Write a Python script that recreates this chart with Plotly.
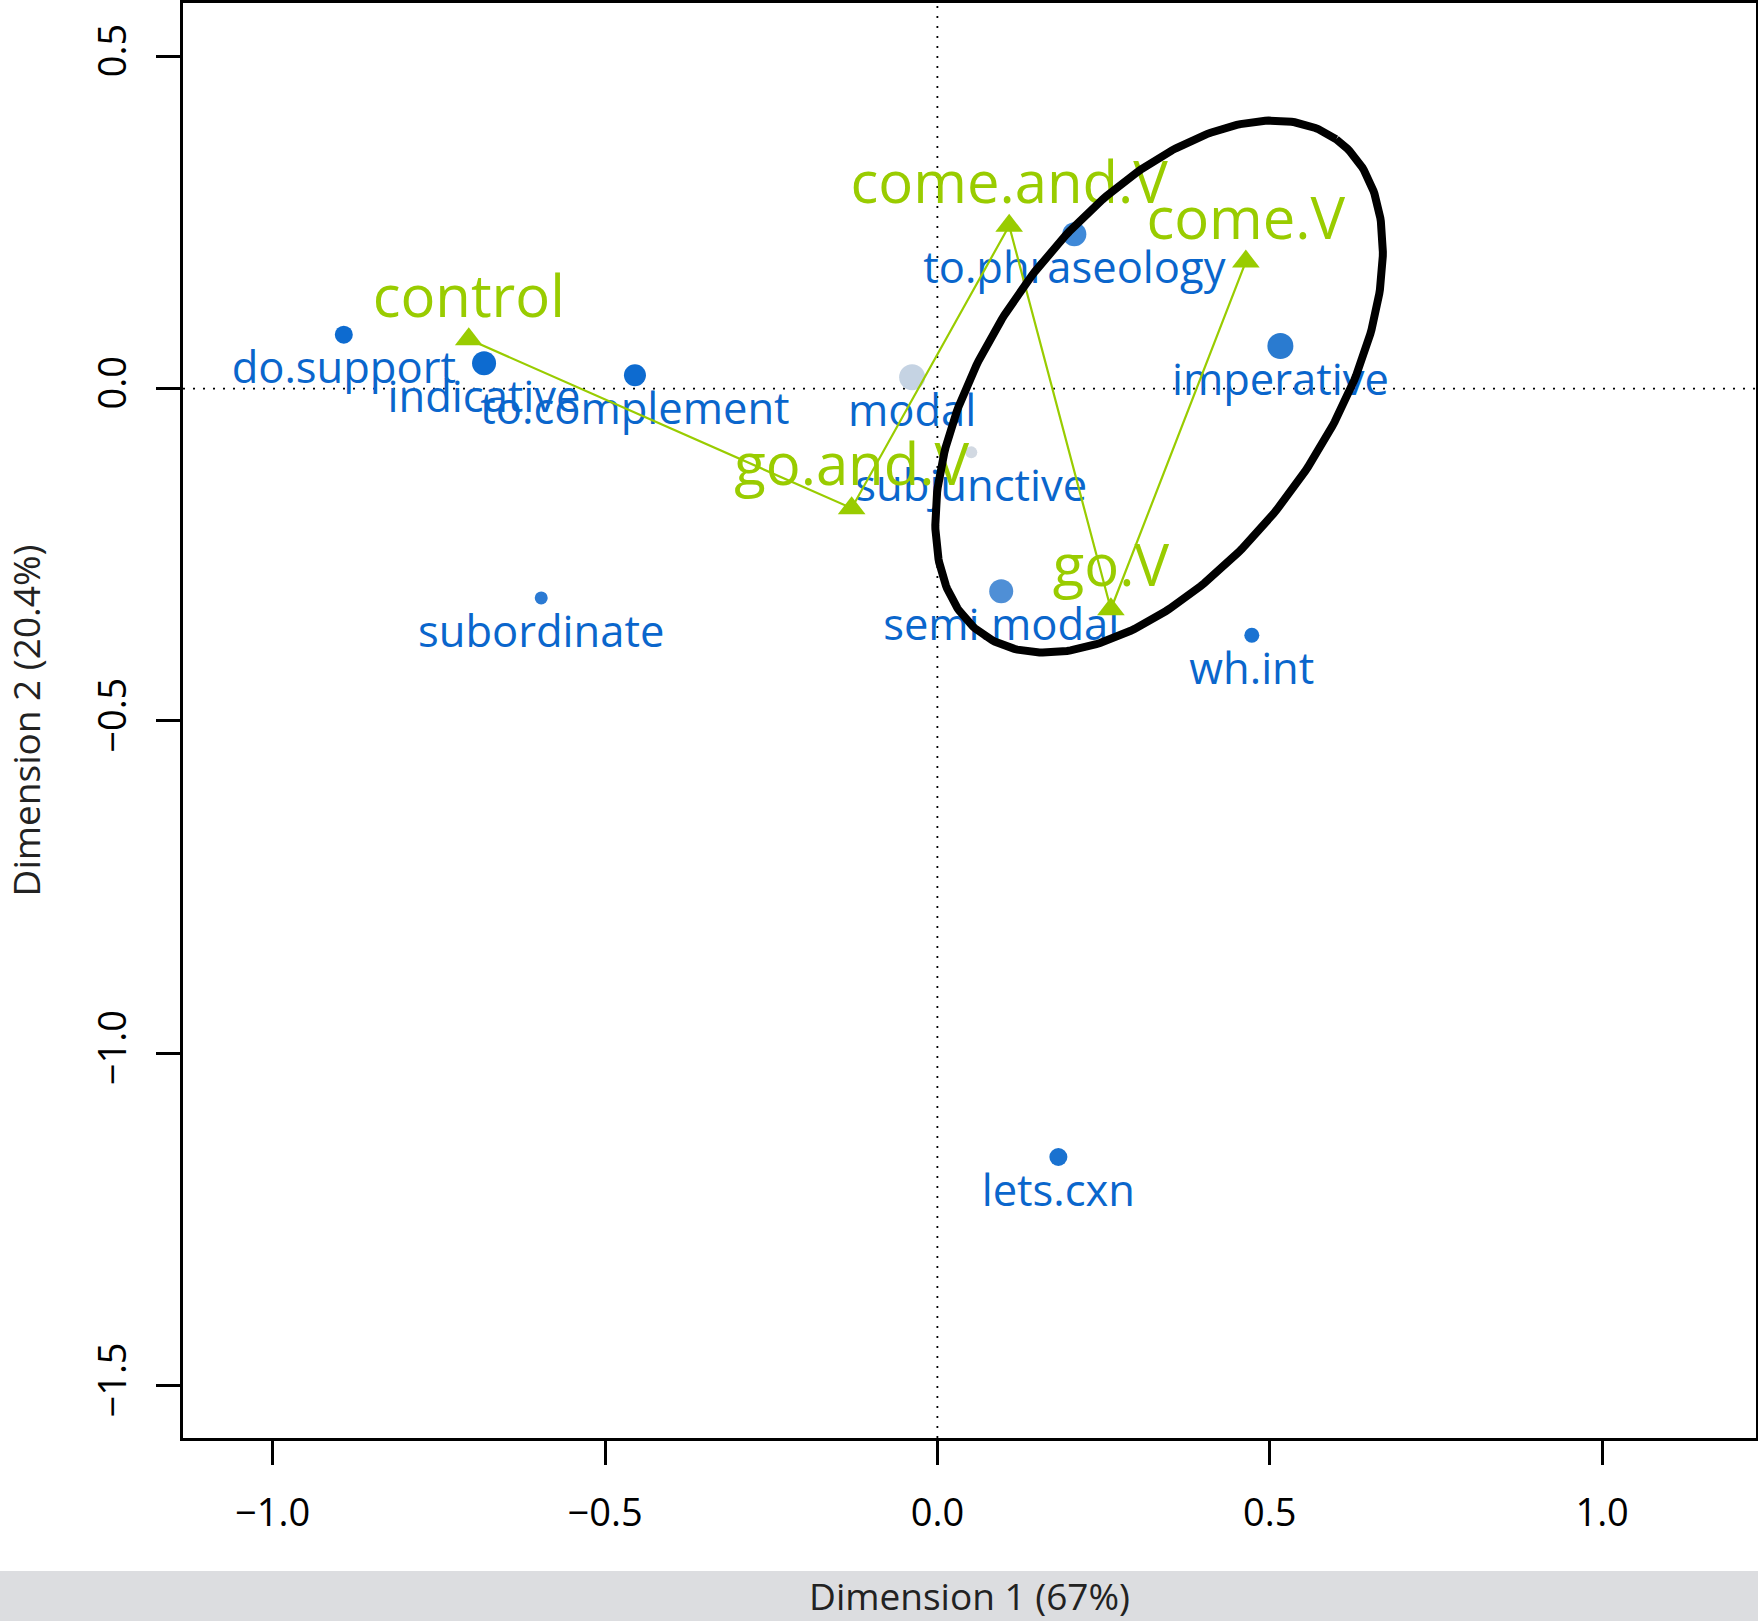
import numpy as np
import plotly.graph_objects as go

# ---- data ----
row_labels = ["do.support", "indicative", "to.complement", "modal", "subjunctive",
              "to.phraseology", "imperative", "semi.modal", "wh.int", "subordinate", "lets.cxn"]
row_dim1 = [-0.893, -0.682, -0.455, -0.038, 0.051, 0.206, 0.516, 0.096, 0.473, -0.596, 0.182]
row_dim2 = [0.081, 0.038, 0.020, 0.017, -0.096, 0.232, 0.064, -0.305, -0.371, -0.315, -1.156]

col_labels = ["control", "go.and.V", "come.and.V", "go.V", "come.V"]
col_dim1 = [-0.705, -0.129, 0.108, 0.261, 0.464]
col_dim2 = [0.074, -0.180, 0.245, -0.332, 0.191]

x_ticks = [-1.0, -0.5, 0.0, 0.5, 1.0]
x_tick_text = ["\u22121.0", "\u22120.5", "0.0", "0.5", "1.0"]
y_ticks = [-1.5, -1.0, -0.5, 0.0, 0.5]
y_tick_text = ["\u22121.5", "\u22121.0", "\u22120.5", "0.0", "0.5"]

x_title = "Dimension 1 (67%)"
y_title = "Dimension 2 (20.4%)"

# ellipse outline (center, semi-axes, rotation in degrees)
ell_center = (0.3335, 0.003)
ell_axes = (0.4576, 0.2532)
ell_angle = 54.4

# ---- styles ----
row_sizes = [18, 24, 22, 26, 12, 24, 26, 24, 15, 13, 18]
row_colors = ["#0d6bd0", "#0d6bd0", "#0d6bd0", "#c5d3e3", "#d2d9e2",
              "#3f89d8", "#2a7bd0", "#4f8fd6", "#1a73d2", "#2b7ad3", "#1a72d0"]
BLUE_TXT = "#0a66cc"
GREEN = "#99cc00"
FONT = "Open Sans"

W, H = 1758, 1621
ML, MR, MT, MB = 183, 2, 3, 183
x_range = [-1.1349, 1.2315]
y_range = [-1.5787, 0.580]
px_per_unit = (H - MT - MB) / (y_range[1] - y_range[0])

blue_fs = 43.5
green_fs = 58
blue_off = (53 - 0.35 * blue_fs) / px_per_unit
green_off = (17 + 0.35 * green_fs) / px_per_unit

fig = go.Figure()

# row points
fig.add_trace(go.Scatter(
    x=row_dim1, y=row_dim2, mode="markers",
    marker=dict(size=row_sizes, color=row_colors, opacity=1, line=dict(width=0)),
    hoverinfo="skip", showlegend=False))
fig.add_trace(go.Scatter(
    x=row_dim1, y=[v - blue_off for v in row_dim2], mode="text",
    text=row_labels, textposition="middle center",
    textfont=dict(family=FONT, size=blue_fs, color=BLUE_TXT),
    hoverinfo="skip", showlegend=False))

# column points with connecting path
fig.add_trace(go.Scatter(
    x=col_dim1, y=col_dim2, mode="lines+markers",
    line=dict(color=GREEN, width=2.2),
    marker=dict(symbol="triangle-up", size=24, color=GREEN, opacity=1, line=dict(width=0)),
    hoverinfo="skip", showlegend=False))
fig.add_trace(go.Scatter(
    x=col_dim1, y=[v + green_off for v in col_dim2], mode="text",
    text=col_labels, textposition="middle center",
    textfont=dict(family=FONT, size=green_fs, color=GREEN),
    hoverinfo="skip", showlegend=False))

# ellipse
t = np.linspace(0, 2 * np.pi, 361)
th = np.deg2rad(ell_angle)
ex = ell_center[0] + ell_axes[0] * np.cos(t) * np.cos(th) - ell_axes[1] * np.sin(t) * np.sin(th)
ey = ell_center[1] + ell_axes[0] * np.cos(t) * np.sin(th) + ell_axes[1] * np.sin(t) * np.cos(th)
fig.add_trace(go.Scatter(
    x=ex, y=ey, mode="lines", line=dict(color="black", width=8),
    hoverinfo="skip", showlegend=False))

# dotted reference lines through the origin
fig.add_shape(type="line", xref="x", yref="y domain", x0=0, x1=0, y0=0, y1=1,
              line=dict(color="black", width=1.8, dash="2px,8px"), layer="below")
fig.add_shape(type="line", xref="x domain", yref="y", x0=0, x1=1, y0=0, y1=0,
              line=dict(color="black", width=1.8, dash="2px,8px"), layer="below")

# grey band at the bottom of the figure
pw, ph = W - ML - MR, H - MT - MB
fig.add_shape(type="rect", xref="paper", yref="paper",
              x0=-ML / pw, x1=(W - ML) / pw,
              y0=-MB / ph, y1=-(1571 - (H - MB)) / ph,
              fillcolor="#dcdde0", line=dict(width=0), layer="below")

axis_common = dict(showgrid=False, zeroline=False, showline=True, mirror=True,
                   linecolor="black", linewidth=2.5, ticks="outside", ticklen=24,
                   tickwidth=2.5, tickcolor="black",
                   tickfont=dict(family=FONT, size=38, color="black"))

fig.update_layout(
    width=W, height=H,
    margin=dict(l=ML, r=MR, t=MT, b=MB, autoexpand=False),
    paper_bgcolor="white", plot_bgcolor="white",
    xaxis=dict(range=x_range, tickvals=x_ticks, ticktext=x_tick_text,
               ticklabelstandoff=16,
               title=dict(text=x_title, font=dict(family=FONT, size=37, color="#222222"),
                          standoff=89),
               **axis_common),
    yaxis=dict(range=y_range, tickvals=y_ticks, ticktext=y_tick_text,
               tickangle=-90, ticklabelstandoff=15,
               title=dict(text=y_title, font=dict(family=FONT, size=37, color="#222222"),
                          standoff=86),
               **axis_common),
)

fig.write_html("out.html",
               config={"displayModeBar": False},
               post_script="document.body.style.margin='0';"
                           "document.body.style.overflow='hidden';")
